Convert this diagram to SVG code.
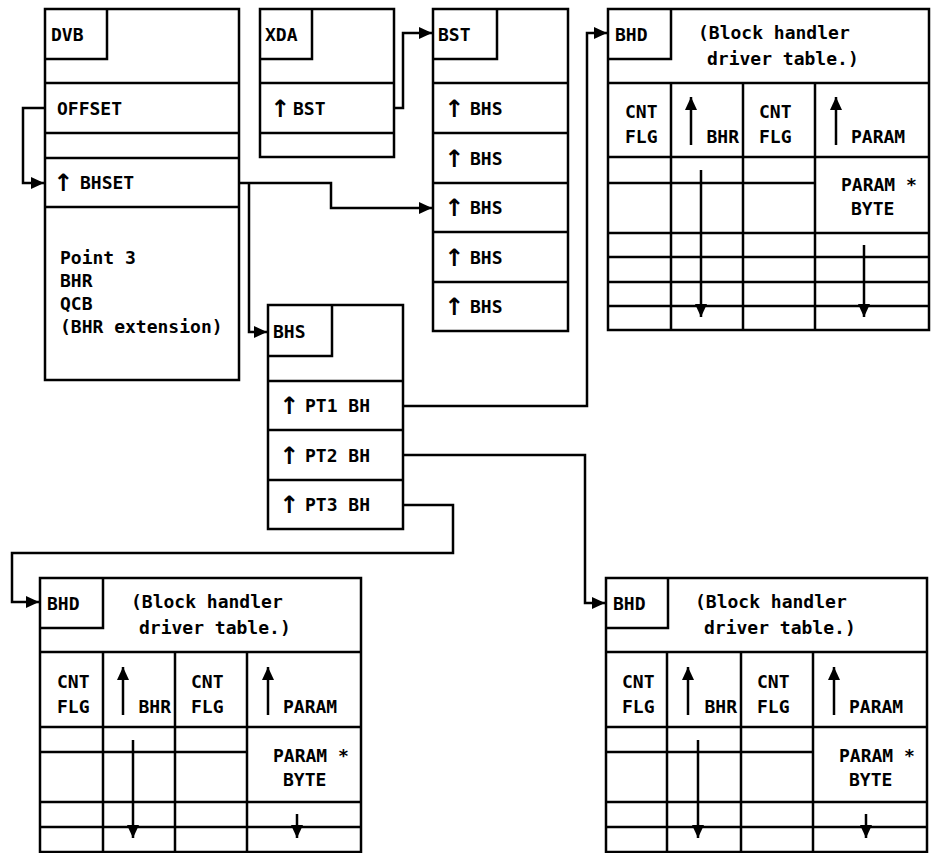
<svg xmlns="http://www.w3.org/2000/svg" width="935" height="853" viewBox="0 0 935 853">
<style>
  .b { fill: none; stroke: #000; stroke-width: 2.5; }
  .c { fill: none; stroke: #000; stroke-width: 2.5; marker-end: url(#ah); }
  .t { font-family: "DejaVu Sans Mono", "Liberation Mono", monospace; font-weight: bold; font-size: 18px; fill: #000; }
  .ar { font-family: "DejaVu Sans", "Liberation Sans", sans-serif; font-size: 24px; font-weight: bold; }
</style>
<defs>
  <marker id="ah" markerUnits="userSpaceOnUse" markerWidth="14" markerHeight="12" refX="13" refY="6" orient="auto">
    <path d="M0,0 L13,6 L0,12 z" fill="#000"/>
  </marker>
</defs>
<rect width="935" height="853" fill="#fff"/>

<g id="dvb">
  <rect class="b" x="45" y="9" width="194" height="371"/>
  <path class="b" d="M45,59 H107 V9 M45,83 H239 M45,133 H239 M45,158 H239 M45,207 H239"/>
  <text class="t" x="51" y="41">DVB</text>
  <text class="t" x="57" y="115">OFFSET</text>
  <text class="t"><tspan class="ar" x="63" y="191" text-anchor="middle">↑</tspan><tspan x="80" y="189">BHSET</tspan></text>
  <text class="t" x="60" y="264">Point 3</text>
  <text class="t" x="60" y="287">BHR</text>
  <text class="t" x="60" y="310">QCB</text>
  <text class="t" x="60" y="333">(BHR extension)</text>
</g>

<g id="xda">
  <rect class="b" x="260" y="9" width="134" height="148"/>
  <path class="b" d="M260,59 H312 V9 M260,83 H394 M260,133 H394"/>
  <text class="t" x="265" y="41">XDA</text>
  <text class="t"><tspan class="ar" x="280" y="117" text-anchor="middle">↑</tspan><tspan x="293" y="115">BST</tspan></text>
</g>

<g id="bst">
  <rect class="b" x="433" y="9" width="135" height="322"/>
  <path class="b" d="M433,59 H497 V9 M433,83 H568 M433,133 H568 M433,183 H568 M433,232 H568 M433,282 H568"/>
  <text class="t" x="438" y="41">BST</text>
  <text class="t"><tspan class="ar" x="454" y="117" text-anchor="middle">↑</tspan><tspan x="470" y="115">BHS</tspan></text>
  <text class="t"><tspan class="ar" x="454" y="167" text-anchor="middle">↑</tspan><tspan x="470" y="165">BHS</tspan></text>
  <text class="t"><tspan class="ar" x="454" y="216" text-anchor="middle">↑</tspan><tspan x="470" y="214">BHS</tspan></text>
  <text class="t"><tspan class="ar" x="454" y="266" text-anchor="middle">↑</tspan><tspan x="470" y="264">BHS</tspan></text>
  <text class="t"><tspan class="ar" x="454" y="315" text-anchor="middle">↑</tspan><tspan x="470" y="313">BHS</tspan></text>
</g>

<g id="bhs">
  <rect class="b" x="268" y="305" width="135" height="224"/>
  <path class="b" d="M268,356 H332 V305 M268,381 H403 M268,430 H403 M268,480 H403"/>
  <text class="t" x="273" y="338">BHS</text>
  <text class="t"><tspan class="ar" x="289" y="414" text-anchor="middle">↑</tspan><tspan x="305" y="412">PT1 BH</tspan></text>
  <text class="t"><tspan class="ar" x="289" y="464" text-anchor="middle">↑</tspan><tspan x="305" y="462">PT2 BH</tspan></text>
  <text class="t"><tspan class="ar" x="289" y="513" text-anchor="middle">↑</tspan><tspan x="305" y="511">PT3 BH</tspan></text>
</g>

<g id="bhd-pt1" transform="translate(608,9)">
  <rect class="b" x="0" y="0" width="321" height="321"/>
  <path class="b" d="M0,50 H63 V0 M0,74 H321 M63,74 V321 M135,74 V321 M207,74 V321 M0,148 H321 M0,174 H207 M0,224 H321 M0,248 H321 M0,273 H321 M0,297 H321"/>
  <text class="t" x="7" y="32">BHD</text>
  <text class="t" x="90" y="30">(Block handler</text>
  <text class="t" x="99" y="56">driver table.)</text>
  <text class="t" x="17" y="109">CNT</text>
  <text class="t" x="17" y="134">FLG</text>
  <text class="t" x="151" y="109">CNT</text>
  <text class="t" x="151" y="134">FLG</text>
  <text class="t" x="131" y="134" text-anchor="end">BHR</text>
  <text class="t" x="243" y="134">PARAM</text>
  <text class="t" x="233" y="182">PARAM *</text>
  <text class="t" x="243" y="206">BYTE</text>
  <path class="c" d="M83,136 V88"/>
  <path class="c" d="M228,136 V88"/>
  <path class="c" d="M93,161 V308"/>
  <path class="c" d="M256,236 V308"/>
</g>

<g id="bhd-pt3" transform="translate(40,578)">
  <rect class="b" x="0" y="0" width="321" height="274"/>
  <path class="b" d="M0,50 H63 V0 M0,74 H321 M63,74 V274 M135,74 V274 M207,74 V274 M0,149 H321 M0,174 H207 M0,224 H321 M0,249 H321"/>
  <text class="t" x="7" y="32">BHD</text>
  <text class="t" x="91" y="30">(Block handler</text>
  <text class="t" x="99" y="56">driver table.)</text>
  <text class="t" x="17" y="110">CNT</text>
  <text class="t" x="17" y="135">FLG</text>
  <text class="t" x="151" y="110">CNT</text>
  <text class="t" x="151" y="135">FLG</text>
  <text class="t" x="131" y="135" text-anchor="end">BHR</text>
  <text class="t" x="243" y="135">PARAM</text>
  <text class="t" x="233" y="184">PARAM *</text>
  <text class="t" x="243" y="208">BYTE</text>
  <path class="c" d="M83,137 V89"/>
  <path class="c" d="M228,137 V89"/>
  <path class="c" d="M93,162 V260"/>
  <path class="c" d="M257,236 V260"/>
</g>

<g id="bhd-pt2" transform="translate(606,578)">
  <rect class="b" x="0" y="0" width="321" height="274"/>
  <path class="b" d="M0,50 H62 V0 M0,74 H321 M61,74 V274 M135,74 V274 M207,74 V274 M0,149 H321 M0,174 H207 M0,224 H321 M0,249 H321"/>
  <text class="t" x="7" y="32">BHD</text>
  <text class="t" x="89" y="30">(Block handler</text>
  <text class="t" x="98" y="56">driver table.)</text>
  <text class="t" x="16" y="110">CNT</text>
  <text class="t" x="16" y="135">FLG</text>
  <text class="t" x="151" y="110">CNT</text>
  <text class="t" x="151" y="135">FLG</text>
  <text class="t" x="131" y="135" text-anchor="end">BHR</text>
  <text class="t" x="243" y="135">PARAM</text>
  <text class="t" x="233" y="184">PARAM *</text>
  <text class="t" x="243" y="208">BYTE</text>
  <path class="c" d="M82,137 V89"/>
  <path class="c" d="M228,137 V89"/>
  <path class="c" d="M92,162 V260"/>
  <path class="c" d="M260,236 V260"/>
</g>

<g id="connectors">
  <path class="c" d="M45,108 H23 V183 H44"/>
  <path class="c" d="M239,183 H331 V208 H432"/>
  <path class="c" d="M249,183 V332 H267"/>
  <path class="c" d="M394,108 H403 V33 H432"/>
  <path class="c" d="M403,406 H587 V33 H607"/>
  <path class="c" d="M403,455 H585 V603 H605"/>
  <path class="c" d="M403,505 H453 V553 H12 V602 H39"/>
</g>
</svg>
